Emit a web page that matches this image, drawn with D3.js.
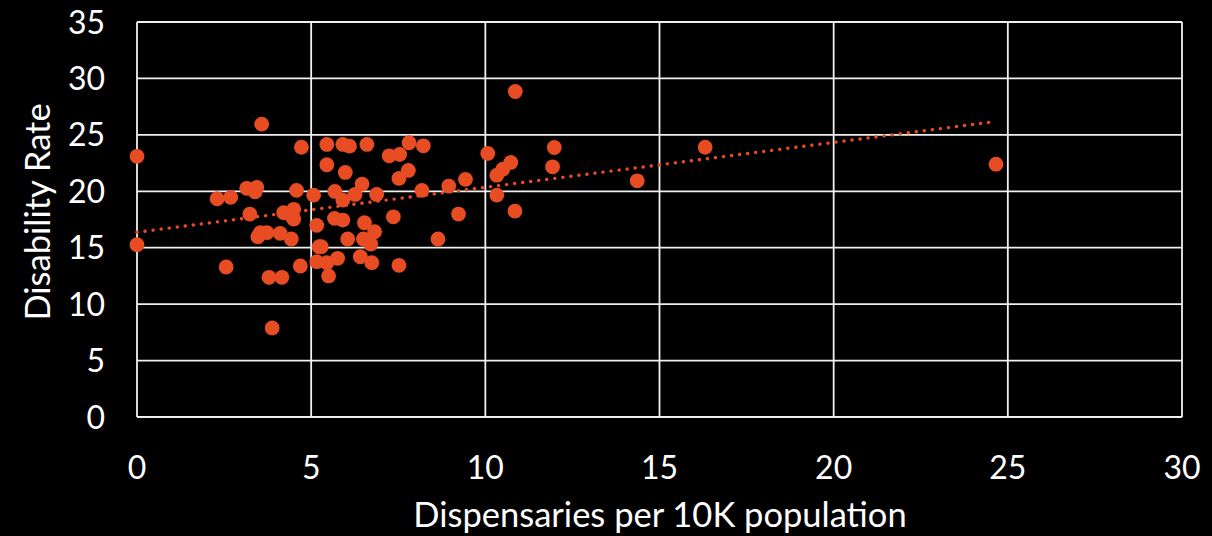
<!DOCTYPE html>
<html><head><meta charset="utf-8">
<script src="https://cdn.jsdelivr.net/npm/d3@7"></script>
<style>html,body{margin:0;padding:0;background:#000;}svg{display:block;}</style>
</head><body>
<svg id="c" width="1212" height="536"></svg>
<script>
// Data: dispensaries per 10K population (x) vs disability rate (y)
const dispensaries = [0,0,2.3,2.56,2.69,3.15,3.44,3.39,3.24,3.58,3.54,3.73,3.47,4.11,4.43,3.79,4.16,3.88,4.21,4.5,4.46,4.5,4.58,4.72,4.69,5.07,5.16,5.23,5.16,5.29,5.45,5.45,5.91,6.1,6.6,7.81,8.22,7.24,7.54,5.98,7.79,7.52,5.68,6.46,6.26,5.91,6.88,8.18,8.95,9.43,10.33,10.33,5.67,5.91,6.53,7.36,9.23,6.05,6.5,6.82,6.71,8.64,5.45,5.76,6.41,6.74,7.52,5.5,10.07,10.86,11.98,10.73,10.5,11.93,14.36,10.85,16.31,24.66];
const disability   = [23.1,15.27,19.34,13.29,19.46,20.26,20.35,19.96,17.98,25.95,16.33,16.33,15.97,16.27,15.77,12.38,12.38,7.89,18.1,18.4,17.74,17.54,20.08,23.9,13.38,19.66,16.98,15.09,13.76,15.09,24.15,22.35,24.15,24.0,24.15,24.3,24.03,23.14,23.26,21.67,21.85,21.14,19.99,20.64,19.72,19.22,19.72,20.08,20.46,21.05,21.43,19.66,17.6,17.45,17.21,17.74,17.98,15.77,15.77,16.42,15.33,15.77,13.67,14.06,14.2,13.67,13.44,12.5,23.35,28.84,23.88,22.56,21.96,22.17,20.93,18.25,23.9,22.4];
const xTicks = [0,5,10,15,20,25,30];
const yTicks = [0,5,10,15,20,25,30,35];
const trendIntercept = 16.37;
const trendSlope = 0.398;
const xTitle = "Dispensaries per 10K population";
const yTitle = "Disability Rate";

const svg = d3.select("#c");
const L = 137, R = 1182, T = 22, B = 417;
const x = d3.scaleLinear().domain([0,30]).range([L,R]);
const y = d3.scaleLinear().domain([0,35]).range([B,T]);
const font = "Lato, 'Open Sans', sans-serif";

svg.append("rect").attr("width",1212).attr("height",536).attr("fill","#000");

// grid
const g = svg.append("g");
g.selectAll("line.v").data(xTicks).join("line")
  .attr("x1",d=>x(d)).attr("x2",d=>x(d)).attr("y1",T).attr("y2",B)
  .attr("stroke","#f0f0f0").attr("stroke-width",1.8);
g.selectAll("line.h").data(yTicks).join("line")
  .attr("y1",d=>y(d)).attr("y2",d=>y(d)).attr("x1",L).attr("x2",R)
  .attr("stroke","#f0f0f0").attr("stroke-width",1.8);

// tick labels
svg.append("g").selectAll("text").data(yTicks).join("text")
  .attr("x",105).attr("y",d=>y(d)).attr("dy","0.36em")
  .attr("text-anchor","end").attr("fill","#fff")
  .style("font-family",font).style("font-size","32px").text(d=>d);
svg.append("g").selectAll("text").data(xTicks).join("text")
  .attr("x",d=>x(d)).attr("y",479)
  .attr("text-anchor","middle").attr("fill","#fff")
  .style("font-family",font).style("font-size","32px").text(d=>d);

// titles
svg.append("text").attr("x",660).attr("y",527).attr("text-anchor","middle")
  .attr("fill","#fff").style("font-family",font).style("font-size","34.5px").text(xTitle);
svg.append("text").attr("transform","translate(50,212) rotate(-90)").attr("text-anchor","middle")
  .attr("fill","#fff").style("font-family",font).style("font-size","34.5px").text(yTitle);

// points
const pts = dispensaries.map((d,i)=>({x:d,y:disability[i]}));
svg.append("g").selectAll("circle").data(pts).join("circle")
  .attr("cx",d=>x(d.x)).attr("cy",d=>y(d.y)).attr("r",7.4)
  .attr("fill","#E84C22");

// trendline
const xmax = d3.max(dispensaries);
svg.append("path")
  .attr("d", d3.line()([[x(0),y(trendIntercept)],[x(xmax),y(trendIntercept+trendSlope*xmax)]]))
  .attr("stroke","#E84C22").attr("stroke-width",3.4).attr("stroke-linecap","round")
  .attr("stroke-dasharray","0.1 8").attr("fill","none");
</script>
</body></html>
